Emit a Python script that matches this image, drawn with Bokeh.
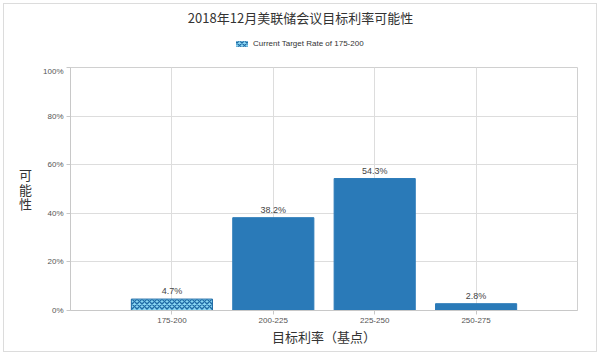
from bokeh.plotting import figure
from bokeh.models import (ColumnDataSource, FactorRange, Range1d, Legend, LegendItem,
                          PrintfTickFormatter, FixedTicker, Label)
from bokeh.layouts import column
from bokeh.core.properties import value
from bokeh.embed import file_html
from bokeh.resources import INLINE

title_text = "2018年12月美联储会议目标利率可能性"
categories = ["175-200", "200-225", "225-250", "250-275"]
probabilities = [4.7, 38.2, 54.3, 2.8]
bar_labels = ["4.7%", "38.2%", "54.3%", "2.8%"]
legend_text = "Current Target Rate of 175-200"
y_label = "可\n能\n性"
x_label = "目标利率（基点）"
y_ticks = [0, 20, 40, 60, 80, 100]

current = categories[:1]
others = categories[1:]

src_cur = ColumnDataSource(dict(x=current, y=probabilities[:1], t=bar_labels[:1]))
src_oth = ColumnDataSource(dict(x=others, y=probabilities[1:], t=bar_labels[1:]))
src_all = ColumnDataSource(dict(x=categories, y=probabilities, t=bar_labels))

LABEL_FONT = "Liberation Sans"
CJK = "Noto Sans CJK SC"

HATCH = dict(fill_color="#8ad6f2", hatch_pattern="diagonal_cross",
             hatch_color="#1f6aa5", hatch_scale=5, hatch_weight=1.4)

BL, BR = 66, 19

# ---- header: title + legend ----
head = figure(width=592, height=62, output_backend="svg", toolbar_location=None,
              x_range=Range1d(0, 1), y_range=Range1d(0, 1),
              min_border_left=BL, min_border_right=BR, min_border_top=0, min_border_bottom=0,
              x_axis_type=None, y_axis_type=None)
head.grid.visible = False
head.outline_line_color = None
head.title = None
# legend swatch only: a zero-width bar draws nothing in the header itself
dummy = head.vbar(x=[0.5], top=[0.5], width=0, line_color=None, **HATCH)
head.add_layout(Label(x=230, y=49, x_units="screen", y_units="screen", text=title_text,
                      text_align="center", text_baseline="middle", text_font=CJK,
                      text_font_size="13px", text_color="#333333"))
legend = Legend(items=[LegendItem(label=legend_text, renderers=[dummy])],
                location=(164, 18), orientation="horizontal",
                label_text_font=LABEL_FONT, label_text_font_size="8px",
                label_text_color="#333333", glyph_width=15, glyph_height=7,
                label_standoff=4, padding=0, margin=0, spacing=0,
                border_line_color=None, background_fill_alpha=0, label_height=9)
head.add_layout(legend)

# ---- main chart ----
p = figure(width=592, height=285, output_backend="svg", toolbar_location=None,
           x_range=FactorRange(*categories, range_padding=0.25),
           y_range=Range1d(0, 100),
           min_border_left=BL, min_border_right=BR, min_border_top=1, min_border_bottom=41)
p.title = None

p.vbar(x="x", top="y", width=0.8, source=src_cur, line_color="#1f6aa5", **HATCH)
p.vbar(x="x", top="y", width=0.8, source=src_oth, fill_color="#2a7ab8", line_color="#2a7ab8")

p.text(x="x", y="y", text="t", source=src_all, y_offset=-3, text_align="center",
       text_baseline="bottom", text_font=value(LABEL_FONT), text_font_size="9px",
       text_color="#444444")

p.yaxis.ticker = FixedTicker(ticks=y_ticks)
p.yaxis.formatter = PrintfTickFormatter(format="%d%%")
for ax in (p.xaxis[0], p.yaxis[0]):
    ax.axis_line_color = "#c8c8c8"
    ax.major_tick_line_color = "#c8c8c8"
    ax.major_tick_out = 4
    ax.major_tick_in = 0
    ax.minor_tick_line_color = None
    ax.major_label_text_font = LABEL_FONT
    ax.major_label_text_font_size = "8px"
    ax.major_label_text_color = "#555555"
p.yaxis.major_label_standoff = 3
p.xaxis.major_label_standoff = 3

p.xaxis.axis_label = x_label
p.xaxis.axis_label_text_font = CJK
p.xaxis.axis_label_text_font_size = "13px"
p.xaxis.axis_label_text_font_style = "normal"
p.xaxis.axis_label_text_color = "#333333"
p.xaxis.axis_label_standoff = 1

p.yaxis.axis_label = y_label
p.yaxis.axis_label_orientation = "horizontal"
p.yaxis.axis_label_text_font = CJK
p.yaxis.axis_label_text_font_size = "13px"
p.yaxis.axis_label_text_font_style = "normal"
p.yaxis.axis_label_text_color = "#333333"
p.yaxis.axis_label_text_line_height = 0.75
p.yaxis.axis_label_standoff = 8

p.xgrid.grid_line_color = "#dddddd"
p.ygrid.grid_line_color = "#dddddd"
p.outline_line_color = "#d0d0d0"

layout = column(head, p, spacing=0)
layout.styles = {"border": "1px solid #dcdcdc", "margin": "3px"}

open("out.html", "w").write(file_html(layout, INLINE))
